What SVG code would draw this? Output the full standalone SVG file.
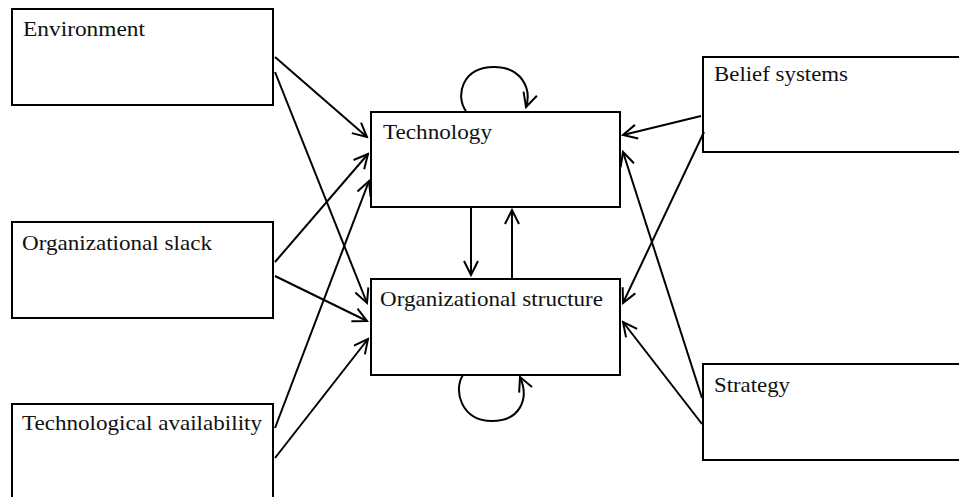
<svg xmlns="http://www.w3.org/2000/svg" width="959" height="497" viewBox="0 0 959 497">
  <defs>
    <marker id="arrow" viewBox="0 0 17 17" refX="15" refY="8" markerWidth="17" markerHeight="17" markerUnits="userSpaceOnUse" orient="auto">
      <path d="M1,1 L15,8 L1,15" fill="none" stroke="#000" stroke-width="2"/>
    </marker>
    <style>
      .box { fill: #fff; stroke: #000; stroke-width: 2; }
      .label { font-family: "Liberation Serif", "Times New Roman", serif; font-size: 22px; fill: #111; }
      .edge { fill: none; stroke: #000; stroke-width: 2; marker-end: url(#arrow); }
    </style>
  </defs>
  <rect width="959" height="497" fill="#fff"/>

  <!-- left-hand factors -->
  <g id="environment">
    <rect class="box" x="12" y="9" width="261" height="96"/>
    <text class="label" x="23" y="36" textLength="122" lengthAdjust="spacingAndGlyphs">Environment</text>
  </g>
  <g id="organizational-slack">
    <rect class="box" x="12" y="222" width="261" height="96"/>
    <text class="label" x="22" y="250" textLength="190" lengthAdjust="spacingAndGlyphs">Organizational slack</text>
  </g>
  <g id="technological-availability">
    <rect class="box" x="12" y="404" width="261" height="96"/>
    <text class="label" x="22" y="430" textLength="240" lengthAdjust="spacingAndGlyphs">Technological availability</text>
  </g>

  <!-- central pair -->
  <g id="technology">
    <rect class="box" x="371" y="112" width="249" height="95"/>
    <text class="label" x="383" y="139" textLength="109" lengthAdjust="spacingAndGlyphs">Technology</text>
  </g>
  <g id="organizational-structure">
    <rect class="box" x="371" y="279" width="249" height="96"/>
    <text class="label" x="380" y="306" textLength="223" lengthAdjust="spacingAndGlyphs">Organizational structure</text>
  </g>

  <!-- right-hand factors -->
  <g id="belief-systems">
    <rect class="box" x="703" y="57" width="262" height="95"/>
    <text class="label" x="714" y="81" textLength="134" lengthAdjust="spacingAndGlyphs">Belief systems</text>
  </g>
  <g id="strategy">
    <rect class="box" x="703" y="364" width="262" height="96"/>
    <text class="label" x="714" y="392" textLength="76" lengthAdjust="spacingAndGlyphs">Strategy</text>
  </g>

  <!-- influence arrows -->
  <g id="connectors">
    <line class="edge" x1="275" y1="57" x2="367" y2="137"/>
    <line class="edge" x1="275" y1="72" x2="367" y2="303"/>
    <line class="edge" x1="275" y1="262" x2="368" y2="154"/>
    <line class="edge" x1="275" y1="276" x2="367" y2="321"/>
    <line class="edge" x1="275" y1="428" x2="369" y2="181"/>
    <line class="edge" x1="275" y1="458" x2="368" y2="339"/>

    <line class="edge" x1="701" y1="116" x2="623" y2="135"/>
    <line class="edge" x1="704" y1="132" x2="623" y2="303"/>
    <line class="edge" x1="702" y1="398" x2="623" y2="152"/>
    <line class="edge" x1="702" y1="424" x2="623" y2="322"/>

    <line class="edge" x1="471" y1="207" x2="471" y2="275"/>
    <line class="edge" x1="512" y1="279" x2="512" y2="210"/>

    <path class="edge" d="M466,111 C455,96 462,67 494,67 C521,67 532,88 526,107"/>
    <path class="edge" d="M463,375 C453,390 461,421 492,421 C519,421 530,400 520,377"/>
  </g>
</svg>
